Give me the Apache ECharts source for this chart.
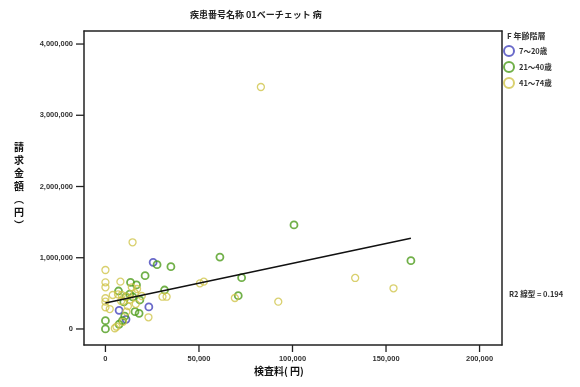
<!DOCTYPE html>
<html><head><meta charset="utf-8">
<script src="https://cdn.jsdelivr.net/npm/echarts@6/dist/echarts.min.js"></script>
<style>html,body{margin:0;padding:0;background:#fff}#c{width:580px;height:387px}</style>
</head><body><div id="c"></div>
<script>
// Age group names
const groupNames = ['7～20歳', '21～40歳', '41～74歳'];
// [検査料(円), 請求金額(円)]
const group7to20 = [[25500,936000],[7300,262000],[23200,309000],[11000,136000]];
const group21to40 = [
 [27600,902000],[35000,874000],[21200,748000],[13400,655000],[16600,618000],[7000,533000],
 [31600,547000],[13000,490000],[10900,450000],[14600,450000],[9800,379000],[15800,243000],
 [18000,220000],[9100,116000],[0,116000],[0,0],[7300,66000],[61200,1010000],[100800,1460000],
 [72800,720000],[71000,467000],[163300,959000],[10300,180000],[18400,407000]];
const group41to74 = [
 [14500,1217000],[0,828000],[8000,664000],[0,655000],[0,585000],[14100,585000],[16900,561000],
 [6700,487000],[3900,477000],[8700,477000],[11200,453000],[19400,463000],[30500,453000],
 [32700,453000],[50500,641000],[52600,664000],[0,431000],[0,383000],[0,305000],[8400,393000],
 [11200,243000],[23000,164000],[5900,32000],[5000,10000],[9400,100000],[83100,3397000],
 [69200,435000],[92400,383000],[133500,716000],[154000,571000],[13000,410000],[16200,350000],
 [2300,280000],[15700,505000],[12000,320000]];
// fit line endpoints
const fitLine = [[0,365000],[163300,1273000]];
const xTicks = [0,50000,100000,150000,200000];
const yTicks = [0,1000000,2000000,3000000,4000000];
const colors = ['#4444bb','#4e9c1c','#cfc44a'];

const chart = echarts.init(document.getElementById('c'));
const fmt = v => v.toLocaleString('en-US');
const tickFont = {fontFamily:'Liberation Sans', fontSize:7.5, fontWeight:'bold', color:'#333'};
const cjk = '"Noto Sans CJK JP"';
const frame = () => ({show:true, onZero:false, lineStyle:{color:'#222', width:1.5}});
const xRange = {min:-11460, max:212000};
const yRange = {min:-225000, max:4183000};
const groups = [group7to20, group21to40, group41to74];
const series = groups.map((d,i)=>({
  name: groupNames[i], type:'scatter', data:d, symbol:'circle', symbolSize:7,
  itemStyle:{color:'rgba(255,255,255,0)', borderColor:colors[i], borderWidth: i===2?1.3:1.8},
  z: 3
}));
series.push({type:'line', data:fitLine, symbol:'none', lineStyle:{color:'#111', width:1.5}, z:4, silent:true});
// axis tick marks placed through the axis scales
const tickStroke = {stroke:'#222', lineWidth:1.3};
series.push({type:'custom', silent:true, clip:false, z:5,
  data: xTicks.map(v=>[v, yRange.min]),
  renderItem:(params, api)=>{
    const p = api.coord([api.value(0), api.value(1)]);
    return {type:'line', shape:{x1:p[0], y1:p[1], x2:p[0], y2:p[1]+7}, style:tickStroke};
  }});
series.push({type:'custom', silent:true, clip:false, z:5,
  data: yTicks.map(v=>[xRange.min, v]),
  renderItem:(params, api)=>{
    const p = api.coord([api.value(0), api.value(1)]);
    return {type:'line', shape:{x1:p[0]-8, y1:p[1], x2:p[0], y2:p[1]}, style:tickStroke};
  }});

chart.setOption({
  animation:false,
  grid:{left:84, right:78, top:31, bottom:42, show:false},
  xAxis:[
    {type:'value', ...xRange, position:'bottom',
     axisLine:frame(), splitLine:{show:false}, axisTick:{show:false},
     axisLabel:{...tickFont, margin:10, customValues:xTicks, formatter:fmt}},
    {type:'value', ...xRange, position:'top',
     axisLine:frame(), splitLine:{show:false}, axisTick:{show:false}, axisLabel:{show:false}}
  ],
  yAxis:[
    {type:'value', ...yRange, position:'left',
     axisLine:frame(), splitLine:{show:false}, axisTick:{show:false},
     axisLabel:{...tickFont, margin:11, customValues:yTicks, formatter:fmt}},
    {type:'value', ...yRange, position:'right',
     axisLine:frame(), splitLine:{show:false}, axisTick:{show:false}, axisLabel:{show:false}}
  ],
  legend:{orient:'vertical', left:498, top:40, itemWidth:10, itemHeight:10, itemGap:4,
    icon:'circle', data:groupNames,
    textStyle:{fontFamily:cjk, fontSize:7.5, color:'#333', fontWeight:'bold'}},
  title:{text:'疾患番号名称 01ベーチェット 病', left:185, top:5,
    textStyle:{fontFamily:cjk, fontSize:9, fontWeight:'bold', color:'#222'}},
  graphic:[
    {type:'text', left:507, top:32, style:{text:'F 年齢階層', fontFamily:cjk, fontSize:8, fontWeight:'bold', fill:'#333'}},
    {type:'text', left:509, top:290, style:{text:'R2 線型 = 0.194', fontFamily:cjk, fontSize:7.5, fontWeight:'bold', fill:'#333'}},
    {type:'text', left:254, top:366, style:{text:'検査料( 円)', fontFamily:cjk, fontSize:10, fontWeight:'bold', fill:'#111'}},
    {type:'text', left:14, top:141, style:{text:'請\n求\n金\n額\n︵\n円\n︶', fontFamily:cjk, fontSize:10, fontWeight:'bold', fill:'#111', lineHeight:13}}
  ],
  series
});
</script></body></html>
